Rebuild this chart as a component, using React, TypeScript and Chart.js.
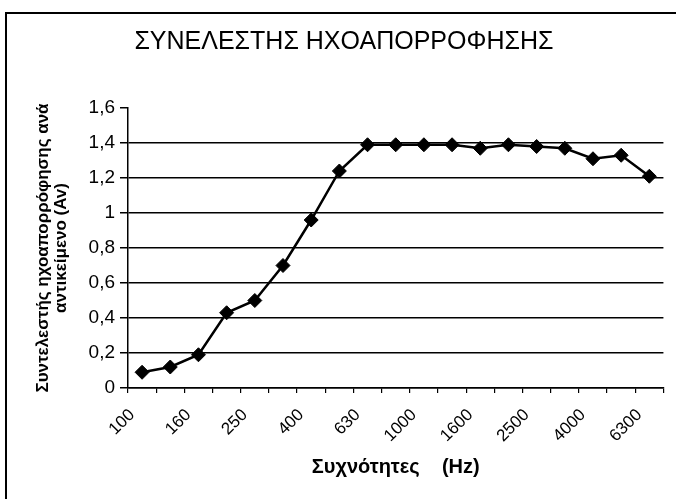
import React, { useEffect, useRef } from 'react';
import { Chart, registerables } from 'chart.js';

Chart.register(...registerables);

const frequencies = ['100', '125', '160', '200', '250', '315', '400', '500', '630', '800', '1000', '1250', '1600', '2000', '2500', '3150', '4000', '5000', '6300'];
const absorption = [0.09, 0.12, 0.19, 0.43, 0.5, 0.7, 0.96, 1.24, 1.39, 1.39, 1.39, 1.39, 1.37, 1.39, 1.38, 1.37, 1.31, 1.33, 1.21];
const chartTitle = '   ΣΥΝΕΛΕΣΤΗΣ ΗΧΟΑΠΟΡΡΟΦΗΣΗΣ';
const yTitle = ['Συντελεστής ηχοαπορρόφησης ανά', 'αντικείμενο (Av)'];
const xTitle = 'Συχνότητες    (Hz)';
const yMin = 0;
const yMax = 1.6;
const yStep = 0.2;

const FONT = "'Liberation Sans', Arial, sans-serif";

export default function App() {
  const ref = useRef<HTMLCanvasElement | null>(null);

  useEffect(() => {
    if (!ref.current) return;
    const chart = new Chart(ref.current, {
      type: 'line',
      data: {
        labels: frequencies,
        datasets: [
          {
            data: absorption,
            borderColor: '#000',
            backgroundColor: '#000',
            borderWidth: 2.5,
            pointStyle: 'rectRot',
            pointRadius: 7,
            pointBackgroundColor: '#000',
            pointBorderColor: '#000',
            pointBorderWidth: 1,
            tension: 0,
            fill: false,
          },
        ],
      },
      options: {
        animation: false,
        responsive: false,
        layout: { padding: { left: 0, right: 9, top: 0, bottom: 0 } },
        plugins: {
          legend: { display: false },
          tooltip: { enabled: false },
          title: {
            display: true,
            text: chartTitle,
            color: '#000',
            font: { family: FONT, size: 25, weight: 'normal', lineHeight: 1.2 },
            padding: { top: 27, bottom: 51 },
          },
        },
        scales: {
          x: {
            type: 'category',
            offset: true,
            grid: {
              display: true,
              offset: true,
              drawOnChartArea: false,
              drawTicks: true,
              tickLength: 5,
              color: '#000',
              lineWidth: 1.2,
            },
            border: { display: true, color: '#000', width: 1.5 },
            ticks: {
              autoSkip: false,
              maxRotation: 45,
              minRotation: 45,
              color: '#000',
              padding: 12,
              labelOffset: -10,
              font: { family: FONT, size: 17 },
              callback: function (this: any, val: any, idx: number) {
                return idx % 2 === 0 ? this.getLabelForValue(val) : '';
              },
            },
            title: {
              display: true,
              text: xTitle,
              color: '#000',
              font: { family: FONT, size: 20, weight: 'bold', lineHeight: 1.2 },
              padding: { top: 0, bottom: 20 },
            },
            afterFit: (scale: any) => {
              scale.height = 111;
            },
          },
          y: {
            min: yMin,
            max: yMax,
            ticks: {
              stepSize: yStep,
              color: '#000',
              padding: 5,
              font: { family: FONT, size: 19 },
              callback: (v: any) => String(Number(Number(v).toFixed(1))).replace('.', ','),
            },
            grid: {
              color: (ctx: any) => (ctx.tick && Math.abs(ctx.tick.value - yMax) < 1e-6 ? 'rgba(0,0,0,0)' : '#000'),
              tickColor: '#000',
              lineWidth: 1.5,
              tickLength: 8,
            },
            border: { display: true, color: '#000', width: 1.5 },
            title: {
              display: true,
              text: yTitle,
              color: '#000',
              font: { family: FONT, size: 17, weight: 'bold', lineHeight: 1.06 },
              padding: { top: 34, bottom: 0 },
            },
            afterFit: (scale: any) => {
              scale.width = 128;
            },
          },
        },
      },
    });
    return () => chart.destroy();
  }, []);

  return (
    <div style={{ position: 'fixed', left: 0, top: 0, width: 676, height: 499, background: '#fff', overflow: 'hidden' }}>
      <div
        style={{
          position: 'absolute',
          left: 5,
          top: 12,
          width: 700,
          height: 520,
          borderLeft: '2px solid #000',
          borderTop: '2px solid #000',
        }}
      />
      <canvas ref={ref} width={676} height={499} style={{ position: 'absolute', left: 0, top: 0 }} />
    </div>
  );
}
